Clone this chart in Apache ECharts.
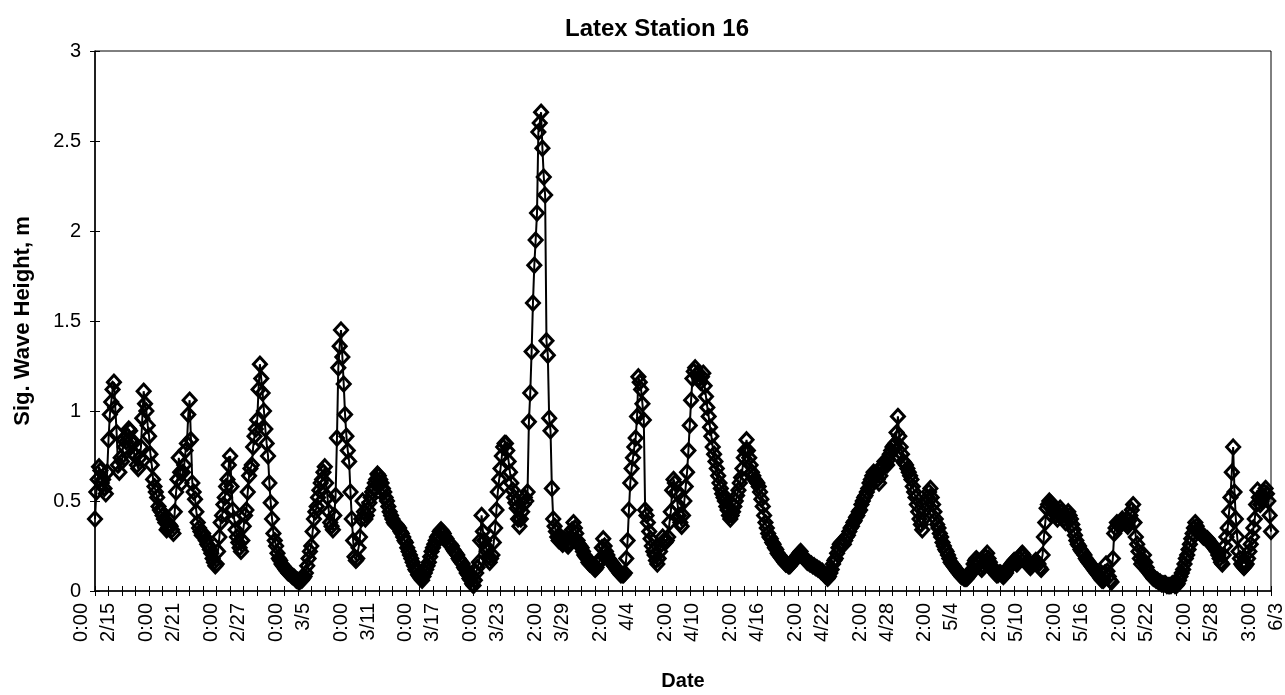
<!DOCTYPE html>
<html><head><meta charset="utf-8">
<script src="https://cdn.jsdelivr.net/npm/echarts@6/dist/echarts.min.js"></script>
<style>html,body{margin:0;padding:0;background:#fff}#c{width:1285px;height:695px}</style>
</head><body><div id="c"></div>
<script>
const chartTitle = 'Latex Station 16';
const yAxisTitle = 'Sig. Wave Height, m';
const xAxisTitle = 'Date';
const tickTimes = ['0:00','0:00','0:00','0:00','0:00','0:00','0:00','2:00','2:00','2:00','2:00','2:00','2:00','2:00','2:00','2:00','2:00','2:00','3:00'];
const tickDates = ['2/15','2/21','2/27','3/5','3/11','3/17','3/23','3/29','4/4','4/10','4/16','4/22','4/28','5/4','5/10','5/16','5/22','5/28','6/3'];
const samplesPerLabel = 48;   // 3-hourly samples, label every 6 days
const samplesPerTick = 10;
// significant wave height (m), 3-hourly from 2/15 (one line per day)
const waveHeight = [
0.40,0.55,0.62,0.69,0.67,0.60,0.62,0.57,
0.54,0.66,0.84,0.98,1.05,1.12,1.16,1.02,
0.88,0.70,0.66,0.74,0.72,0.84,0.80,0.83,
0.86,0.90,0.89,0.84,0.82,0.76,0.75,0.70,
0.68,0.74,0.80,0.96,1.11,1.04,1.00,0.92,
0.86,0.76,0.70,0.62,0.58,0.55,0.52,0.47,
0.45,0.44,0.42,0.40,0.38,0.34,0.35,0.37,
0.36,0.34,0.32,0.44,0.55,0.62,0.74,0.66,
0.60,0.66,0.70,0.78,0.82,0.98,1.06,0.84,
0.60,0.55,0.51,0.44,0.38,0.35,0.33,0.31,
0.32,0.30,0.28,0.26,0.25,0.23,0.21,0.18,
0.16,0.14,0.15,0.22,0.30,0.38,0.42,0.48,
0.52,0.58,0.62,0.70,0.75,0.58,0.45,0.40,
0.34,0.30,0.27,0.24,0.22,0.28,0.36,0.42,
0.45,0.55,0.64,0.68,0.70,0.80,0.86,0.90,
0.95,1.12,1.26,1.18,1.10,1.00,0.90,0.82,
0.75,0.60,0.49,0.40,0.32,0.28,0.25,0.21,
0.18,0.17,0.15,0.14,0.13,0.12,0.11,0.10,
0.10,0.09,0.08,0.08,0.07,0.06,0.06,0.05,
0.06,0.06,0.07,0.08,0.10,0.14,0.18,0.22,
0.25,0.33,0.40,0.44,0.47,0.52,0.56,0.60,
0.62,0.66,0.69,0.60,0.52,0.44,0.38,0.36,
0.34,0.42,0.53,0.85,1.24,1.36,1.45,1.30,
1.15,0.98,0.86,0.78,0.72,0.55,0.40,0.28,
0.19,0.17,0.18,0.24,0.30,0.40,0.50,0.44,
0.40,0.42,0.45,0.49,0.52,0.55,0.57,0.60,
0.62,0.65,0.64,0.62,0.60,0.57,0.55,0.52,
0.50,0.47,0.44,0.42,0.40,0.38,0.37,0.37,
0.36,0.35,0.33,0.32,0.30,0.28,0.27,0.24,
0.22,0.20,0.18,0.16,0.14,0.12,0.11,0.09,
0.08,0.07,0.06,0.08,0.10,0.12,0.14,0.16,
0.19,0.22,0.24,0.26,0.28,0.30,0.31,0.33,
0.34,0.33,0.32,0.30,0.29,0.27,0.26,0.26,
0.25,0.23,0.22,0.21,0.20,0.18,0.17,0.16,
0.15,0.13,0.12,0.10,0.09,0.07,0.06,0.04,
0.03,0.06,0.10,0.13,0.16,0.28,0.42,0.33,
0.28,0.25,0.22,0.19,0.16,0.18,0.20,0.27,
0.35,0.45,0.55,0.62,0.68,0.75,0.80,0.82,
0.82,0.78,0.72,0.66,0.60,0.56,0.52,0.49,
0.46,0.40,0.36,0.40,0.44,0.48,0.52,0.50,
0.55,0.94,1.10,1.33,1.60,1.81,1.95,2.10,
2.55,2.60,2.66,2.46,2.30,2.20,1.39,1.31,
0.96,0.89,0.57,0.40,0.36,0.33,0.30,0.28,
0.30,0.27,0.26,0.29,0.28,0.26,0.25,0.27,
0.30,0.34,0.38,0.35,0.32,0.28,0.26,0.25,
0.24,0.22,0.20,0.19,0.18,0.16,0.15,0.15,
0.14,0.13,0.12,0.13,0.15,0.16,0.18,0.24,
0.29,0.25,0.22,0.20,0.18,0.17,0.16,0.15,
0.14,0.13,0.12,0.11,0.10,0.09,0.09,0.09,
0.10,0.18,0.28,0.45,0.60,0.68,0.74,0.80,
0.85,0.97,1.19,1.16,1.12,1.04,0.95,0.45,
0.42,0.38,0.33,0.29,0.25,0.22,0.20,0.17,
0.15,0.18,0.22,0.26,0.30,0.28,0.27,0.28,
0.30,0.38,0.44,0.56,0.62,0.60,0.55,0.48,
0.42,0.38,0.36,0.42,0.50,0.58,0.66,0.78,
0.92,1.06,1.18,1.22,1.24,1.20,1.21,1.18,
1.16,1.19,1.21,1.14,1.08,1.02,0.97,0.91,
0.86,0.80,0.76,0.72,0.68,0.64,0.60,0.57,
0.54,0.52,0.50,0.47,0.45,0.42,0.40,0.42,
0.44,0.47,0.50,0.53,0.56,0.60,0.63,0.68,
0.74,0.78,0.84,0.78,0.74,0.70,0.66,0.64,
0.62,0.61,0.60,0.58,0.55,0.51,0.47,0.42,
0.38,0.35,0.32,0.30,0.29,0.27,0.26,0.24,
0.23,0.21,0.20,0.19,0.18,0.17,0.16,0.15,
0.15,0.14,0.14,0.15,0.16,0.17,0.18,0.19,
0.20,0.21,0.22,0.20,0.19,0.18,0.17,0.16,
0.16,0.15,0.15,0.14,0.14,0.13,0.13,0.12,
0.12,0.11,0.11,0.10,0.09,0.08,0.07,0.08,
0.10,0.12,0.15,0.17,0.18,0.21,0.24,0.26,
0.27,0.26,0.26,0.28,0.30,0.31,0.33,0.35,
0.36,0.38,0.39,0.41,0.42,0.44,0.45,0.48,
0.50,0.52,0.53,0.55,0.57,0.60,0.62,0.64,
0.66,0.65,0.64,0.62,0.60,0.64,0.68,0.70,
0.72,0.71,0.70,0.73,0.76,0.78,0.80,0.81,
0.82,0.88,0.97,0.86,0.80,0.76,0.72,0.71,
0.70,0.68,0.66,0.64,0.62,0.58,0.55,0.52,
0.48,0.44,0.40,0.37,0.34,0.40,0.45,0.49,
0.52,0.55,0.57,0.52,0.48,0.44,0.40,0.37,
0.35,0.32,0.30,0.27,0.25,0.23,0.22,0.20,
0.18,0.16,0.15,0.14,0.13,0.12,0.11,0.10,
0.09,0.08,0.08,0.07,0.07,0.07,0.08,0.09,
0.10,0.12,0.15,0.17,0.18,0.16,0.15,0.13,
0.12,0.14,0.16,0.19,0.21,0.18,0.16,0.14,
0.12,0.11,0.10,0.09,0.09,0.10,0.10,0.09,
0.08,0.09,0.10,0.12,0.13,0.14,0.15,0.16,
0.17,0.16,0.15,0.16,0.18,0.20,0.21,0.20,
0.18,0.16,0.15,0.14,0.13,0.14,0.15,0.16,
0.17,0.16,0.15,0.13,0.12,0.20,0.30,0.38,
0.46,0.48,0.50,0.49,0.48,0.46,0.44,0.42,
0.40,0.43,0.46,0.44,0.42,0.40,0.38,0.41,
0.44,0.42,0.40,0.37,0.34,0.31,0.28,0.26,
0.25,0.23,0.22,0.21,0.20,0.18,0.17,0.16,
0.15,0.14,0.13,0.12,0.11,0.10,0.09,0.08,
0.07,0.06,0.06,0.10,0.15,0.11,0.08,0.06,
0.05,0.18,0.32,0.35,0.38,0.37,0.36,0.38,
0.40,0.39,0.38,0.37,0.36,0.39,0.42,0.45,
0.48,0.38,0.30,0.26,0.22,0.18,0.15,0.17,
0.20,0.16,0.13,0.11,0.10,0.09,0.08,0.07,
0.07,0.06,0.06,0.05,0.05,0.04,0.04,0.04,
0.04,0.03,0.03,0.03,0.03,0.04,0.04,0.03,
0.03,0.04,0.06,0.08,0.10,0.12,0.15,0.18,
0.20,0.23,0.26,0.29,0.32,0.35,0.38,0.36,
0.34,0.33,0.32,0.31,0.30,0.30,0.29,0.29,
0.28,0.27,0.26,0.25,0.24,0.23,0.22,0.20,
0.18,0.16,0.15,0.20,0.25,0.30,0.35,0.44,
0.52,0.66,0.80,0.55,0.40,0.30,0.22,0.18,
0.15,0.14,0.13,0.14,0.15,0.18,0.22,0.26,
0.30,0.35,0.40,0.48,0.56,0.52,0.48,0.50,
0.52,0.55,0.57,0.54,0.50,0.42,0.33
];
const yMin = 0, yMax = 3, yStep = 0.5;

const FONT = '"Liberation Sans", Arial, sans-serif';
const categories = waveHeight.map((v, i) => String(i));
const isLabelIdx = (idx) => idx % samplesPerLabel === 0 && idx / samplesPerLabel < tickDates.length;
const labelFor = (val, idx) => {
  const k = idx / samplesPerLabel;
  return isLabelIdx(idx) ? tickTimes[k] + '\n' + tickDates[k] : '';
};
const chart = echarts.init(document.getElementById('c'), null, {renderer: 'canvas'});
const black = '#000';
chart.setOption({
  animation: false,
  backgroundColor: '#fff',
  title: {
    text: chartTitle, left: 652, top: 12, textAlign: 'center',
    textStyle: {fontFamily: FONT, fontSize: 24, fontWeight: 'bold', color: black}
  },
  grid: {left: 95, right: 14, top: 51, bottom: 104, outerBoundsMode: 'none', containLabel: false,
    show: true, borderColor: black, borderWidth: 1, backgroundColor: 'transparent'},
  xAxis: [{
    type: 'category', data: categories, boundaryGap: false,
    name: xAxisTitle, nameLocation: 'middle', nameGap: 80,
    nameTextStyle: {fontFamily: FONT, fontSize: 20, fontWeight: 'bold', color: black},
    axisLine: {lineStyle: {color: black, width: 1.5}},
    axisTick: {interval: samplesPerTick - 1, length: 5, lineStyle: {color: black}},
    axisLabel: {
      interval: (idx) => isLabelIdx(idx), rotate: 90, margin: 12,
      hideOverlap: false,
      fontFamily: FONT, fontSize: 20, lineHeight: 27, color: black,
      padding: [0, 0, 8, 0],
      formatter: labelFor
    },
    splitLine: {show: false}
  }, {
    type: 'category', data: categories, boundaryGap: false, position: 'bottom',
    axisLine: {show: false},
    axisTick: {inside: true, interval: samplesPerTick - 1, length: 5, lineStyle: {color: black}},
    axisLabel: {show: false}, splitLine: {show: false}
  }],
  yAxis: [{
    type: 'value', min: yMin, max: yMax, interval: yStep,
    name: yAxisTitle, nameLocation: 'middle', nameGap: 61,
    nameTextStyle: {fontFamily: FONT, fontSize: 22, fontWeight: 'bold', color: black},
    axisLine: {show: true, lineStyle: {color: black, width: 1.5}},
    axisTick: {show: true, length: 5, lineStyle: {color: black}},
    axisLabel: {fontFamily: FONT, fontSize: 20, color: black, margin: 14},
    splitLine: {show: false}
  }, {
    type: 'value', min: yMin, max: yMax, interval: yStep, position: 'left',
    axisLine: {show: false},
    axisTick: {show: true, inside: true, length: 5, lineStyle: {color: black}},
    axisLabel: {show: false}, splitLine: {show: false}
  }],
  series: [{
    type: 'line', data: waveHeight, xAxisIndex: 0, yAxisIndex: 0,
    symbol: 'diamond', symbolSize: [13, 14], showAllSymbol: true,
    lineStyle: {color: black, width: 2},
    itemStyle: {color: 'rgba(0,0,0,0)', borderColor: black, borderWidth: 3},
    emphasis: {disabled: true}
  }]
});
</script>
</body></html>
